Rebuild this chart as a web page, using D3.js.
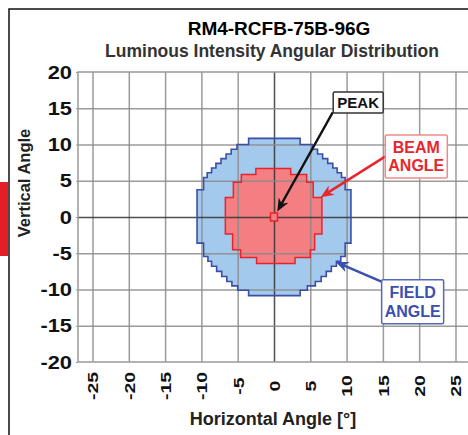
<!DOCTYPE html>
<html><head><meta charset="utf-8">
<script src="https://cdn.jsdelivr.net/npm/d3@7"></script>
<style>
body{margin:0;background:#fff;}
svg{display:block;}
text{font-family:"Liberation Sans",Arial,sans-serif;font-weight:bold;}
</style>
</head><body>
<svg id="c" width="468" height="435"></svg>
<script>
// ---- data ----
const chartTitle = "RM4-RCFB-75B-96G";
const chartSubtitle = "Luminous Intensity Angular Distribution";
const xAxisTitle = "Horizontal Angle [°]";
const yAxisTitle = "Vertical Angle";
const xTicks = [-25, -20, -15, -10, -5, 0, 5, 10, 15, 20, 25];
const yTicks = [20, 15, 10, 5, 0, -5, -10, -15, -20];
// step rows: [vertical top, vertical bottom, horizontal left, horizontal right] in degrees
const fieldRows = [
  [10.85, 10.0, -3.5, 3.6],
  [10.0, 9.35, -5.1, 5.3],
  [9.35, 8.7, -5.9, 6.0],
  [8.7, 8.05, -6.6, 6.7],
  [8.05, 7.4, -7.3, 7.4],
  [7.4, 6.75, -8.0, 8.1],
  [6.75, 6.1, -8.6, 8.7],
  [6.1, 5.45, -9.2, 9.3],
  [5.45, 3.75, -9.7, 9.8],
  [3.75, -3.6, -10.6, 10.6],
  [-3.6, -5.45, -9.7, 9.8],
  [-5.45, -6.1, -9.1, 9.2],
  [-6.1, -6.8, -8.6, 8.6],
  [-6.8, -7.5, -7.9, 7.9],
  [-7.5, -8.2, -7.2, 7.2],
  [-8.2, -8.9, -6.5, 6.5],
  [-8.9, -9.5, -5.8, 5.7],
  [-9.5, -10.1, -5.0, 4.6],
  [-10.1, -10.85, -3.5, 3.6]
];
const beamRows = [
  [6.7, 5.85, -2.5, 2.3],
  [5.85, 4.8, -4.5, 4.5],
  [4.8, 2.7, -5.6, 5.4],
  [2.7, -2.35, -6.7, 6.6],
  [-2.35, -4.5, -5.7, 5.6],
  [-4.5, -5.6, -4.6, 5.0],
  [-5.6, -6.4, -2.4, 2.9]
];
const peakPoint = [0, 0];
// annotation labels (data coords): text lines, label centre, arrow start, arrow tip
const notes = [
  {lines: ["PEAK"], cx: 11.6, cy: 15.8, w: 50, h: 21, from: [8.1, 14.45], to: [0.45, 0.76], color: "#111", border: "#333", font: 15},
  {lines: ["BEAM", "ANGLE"], cx: 19.6, cy: 8.35, w: 62, h: 43, from: [15.3, 8.33], to: [6.43, 2.74], color: "#e8262c", border: "#f08a8a", font: 16},
  {lines: ["FIELD", "ANGLE"], cx: 19.1, cy: -11.7, w: 62, h: 44, from: [14.8, -8.9], to: [8.5, -6.2], color: "#3a4fae", border: "#5666b8", font: 16}
];

// ---- layout ----
const svg = d3.select("#c");
const x = d3.scaleLinear().domain([-27, 27]).range([78, 470]);
const y = d3.scaleLinear().domain([-20, 20]).range([362, 72]);
const fmt = d => String(d);

// outer frame and red tab
svg.append("rect").attr("x", 0).attr("y", 182).attr("width", 8).attr("height", 74).attr("fill", "#e31e25");
svg.append("path").attr("d", "M9,435V9H468").attr("fill", "none").attr("stroke", "#111").attr("stroke-width", 1.5);

// titles
svg.append("text").attr("x", 279).attr("y", 35).attr("text-anchor", "middle").attr("font-size", 19).attr("fill", "#000").text(chartTitle);
svg.append("text").attr("x", 272).attr("y", 57).attr("text-anchor", "middle").attr("font-size", 17.5).attr("fill", "#333").text(chartSubtitle);

// plot background
svg.append("rect").attr("x", x(-27)).attr("y", y(20)).attr("width", x(27) - x(-27)).attr("height", y(-20) - y(20)).attr("fill", "#fff");

// regions
function stepPath(rows) {
  const pts = [];
  rows.forEach(r => { pts.push([r[3], r[0]], [r[3], r[1]]); });
  for (let i = rows.length - 1; i >= 0; i--) { const r = rows[i]; pts.push([r[2], r[1]], [r[2], r[0]]); }
  return d3.line().x(d => x(d[0])).y(d => y(d[1]))(pts) + "Z";
}
svg.append("path").attr("d", stepPath(fieldRows)).attr("fill", "#a3c9ec");
svg.append("path").attr("d", stepPath(beamRows)).attr("fill", "#f47f82");

// grid (drawn over fills)
const gridX = d3.axisBottom(x).tickValues(xTicks).tickSize(-(y(-20) - y(20))).tickFormat("");
const gx = svg.append("g").attr("transform", `translate(0,${y(-20)})`).call(gridX);
gx.select(".domain").remove();
gx.selectAll(".tick line").attr("stroke", d => d === 0 ? "#333" : "#8a8a8a").attr("stroke-width", 1.5).attr("stroke-opacity", 0.85);
const gridY = d3.axisLeft(y).tickValues(yTicks.filter(v => v !== 20 && v !== -20)).tickSize(-(x(27) - x(-27))).tickFormat("");
const gy = svg.append("g").attr("transform", `translate(${x(-27)},0)`).call(gridY);
gy.select(".domain").remove();
gy.selectAll(".tick line").attr("stroke", d => d === 0 ? "#333" : "#8a8a8a").attr("stroke-width", 1.5).attr("stroke-opacity", 0.85);

// frame of plot
svg.append("path").attr("d", `M${x(27)},${y(20)}H${x(-27)}V${y(-20)}H${x(27)}`).attr("fill", "none").attr("stroke", "#999").attr("stroke-width", 1.5);

// region outlines
svg.append("path").attr("d", stepPath(fieldRows)).attr("fill", "none").attr("stroke", "#3b4fa8").attr("stroke-width", 1.6);
svg.append("path").attr("d", stepPath(beamRows)).attr("fill", "none").attr("stroke", "#e4252b").attr("stroke-width", 1.5);

// peak marker
svg.append("rect").attr("x", x(peakPoint[0]) - 3.5).attr("y", y(peakPoint[1]) - 4).attr("width", 7).attr("height", 8)
  .attr("fill", "#f47f82").attr("stroke", "#e4252b").attr("stroke-width", 1.5);

// y axis labels
const yAxis = d3.axisLeft(y).tickValues(yTicks).tickSize(2).tickPadding(0).tickFormat(fmt);
const ya = svg.append("g").attr("transform", `translate(${x(-27)},0)`).call(yAxis);
ya.select(".domain").remove();
ya.selectAll(".tick line").attr("stroke", "#999");
ya.selectAll(".tick text").attr("font-size", 19).attr("fill", "#111").attr("font-family", null)
  .attr("x", -6 / 1.15).attr("transform", "scale(1.15,1)");

// x axis labels
const xAxis = d3.axisBottom(x).tickValues(xTicks).tickSize(0).tickFormat(fmt);
const xa = svg.append("g").attr("transform", `translate(0,${y(-20)})`).call(xAxis);
xa.select(".domain").remove();
xa.selectAll(".tick text").attr("font-size", 15).attr("fill", "#111").attr("font-family", null)
  .attr("x", 0).attr("y", 0).attr("dy", "0.36em").attr("text-anchor", "middle")
  .attr("transform", "translate(0,24) rotate(-90) scale(1.3,1)");

// axis titles
svg.append("text").attr("transform", "translate(30,183) rotate(-90)").attr("text-anchor", "middle").attr("font-size", 16.5).attr("fill", "#222").text(yAxisTitle);
svg.append("text").attr("x", 273).attr("y", 425).attr("text-anchor", "middle").attr("font-size", 18).attr("fill", "#222").text(xAxisTitle);

// annotations
function arrow(g, p0, p1, color) {
  const x0 = x(p0[0]), y0 = y(p0[1]), x1 = x(p1[0]), y1 = y(p1[1]);
  const a = Math.atan2(y1 - y0, x1 - x0);
  const L = 13, W = 5.5;
  const bx = x1 - L * Math.cos(a), by = y1 - L * Math.sin(a);
  g.append("line").attr("x1", x0).attr("y1", y0).attr("x2", x1 - 8 * Math.cos(a)).attr("y2", y1 - 8 * Math.sin(a))
    .attr("stroke", color).attr("stroke-width", 2.5);
  const nx = -Math.sin(a), ny = Math.cos(a);
  const mx = x1 - 9 * Math.cos(a), my = y1 - 9 * Math.sin(a);
  g.append("path").attr("d", `M${x1},${y1}L${bx + W * nx},${by + W * ny}L${mx},${my}L${bx - W * nx},${by - W * ny}Z`).attr("fill", color);
}
notes.forEach(n => {
  const g = svg.append("g");
  arrow(g, n.from, n.to, n.color);
  const cx = x(n.cx), cy = y(n.cy);
  g.append("rect").attr("x", cx - n.w / 2).attr("y", cy - n.h / 2).attr("width", n.w).attr("height", n.h).attr("rx", 1.5)
    .attr("fill", "#fff").attr("stroke", n.border).attr("stroke-width", 1.5);
  const lh = 18.5;
  n.lines.forEach((t, i) => {
    g.append("text").attr("x", cx).attr("y", cy + (i - (n.lines.length - 1) / 2) * lh).attr("dy", "0.36em")
      .attr("text-anchor", "middle").attr("font-size", n.font).attr("fill", n.color).text(t);
  });
});
</script>
</body></html>
